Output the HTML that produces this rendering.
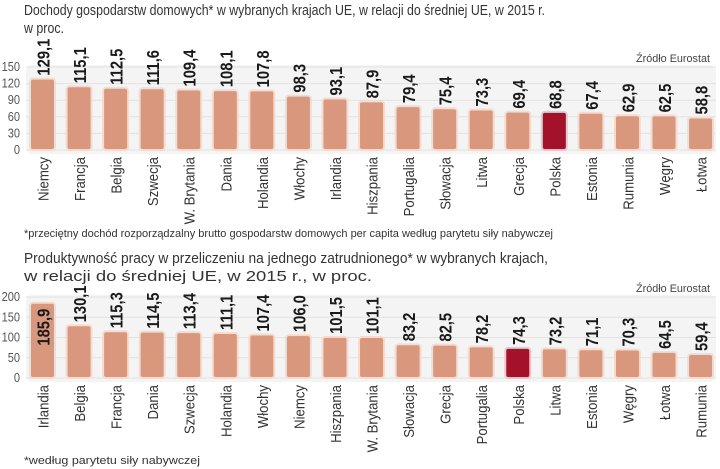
<!DOCTYPE html>
<html><head><meta charset="utf-8"><style>
body{margin:0;background:#fff;}
svg{display:block;font-family:"Liberation Sans",sans-serif;}
</style></head><body>
<svg id="c" width="720" height="469" viewBox="0 0 720 469">
<text x="24" y="15" font-size="15" fill="#333" textLength="521" lengthAdjust="spacingAndGlyphs">Dochody gospodarstw domowych* w wybranych krajach UE, w relacji do średniej UE, w 2015 r.</text>
<text x="24" y="33" font-size="15" fill="#333" textLength="40" lengthAdjust="spacingAndGlyphs">w proc.</text>
<text x="710" y="62" font-size="11" fill="#444" text-anchor="end" textLength="74" lengthAdjust="spacingAndGlyphs">Źródło Eurostat</text>
<text x="24" y="237" font-size="11" fill="#333" textLength="529" lengthAdjust="spacingAndGlyphs">*przeciętny dochód rozporządzalny brutto gospodarstw domowych per capita według parytetu siły nabywczej</text>
<text x="24" y="263" font-size="15" fill="#333" textLength="524" lengthAdjust="spacingAndGlyphs">Produktywność pracy w przeliczeniu na jednego zatrudnionego* w wybranych krajach,</text>
<text x="24" y="281" font-size="15" fill="#333" textLength="348" lengthAdjust="spacingAndGlyphs">w relacji do średniej UE, w 2015 r., w proc.</text>
<text x="710" y="292" font-size="11" fill="#444" text-anchor="end" textLength="74" lengthAdjust="spacingAndGlyphs">Źródło Eurostat</text>
<text x="24" y="464" font-size="11" fill="#333" textLength="176" lengthAdjust="spacingAndGlyphs">*według parytetu siły nabywczej</text>
<g id="g1"></g><g id="g2"></g>
</svg>
<script>
const cats1=["Niemcy","Francja","Belgia","Szwecja","W. Brytania","Dania","Holandia","Włochy","Irlandia","Hiszpania","Portugalia","Słowacja","Litwa","Grecja","Polska","Estonia","Rumunia","Węgry","Łotwa"];
const vals1=[129.1,115.1,112.5,111.6,109.4,108.1,107.8,98.3,93.1,87.9,79.4,75.4,73.3,69.4,68.8,67.4,62.9,62.5,58.8];
const ticks1=[0,30,60,90,120,150];
const cats2=["Irlandia","Belgia","Francja","Dania","Szwecja","Holandia","Włochy","Niemcy","Hiszpania","W. Brytania","Słowacja","Grecja","Portugalia","Polska","Litwa","Estonia","Węgry","Łotwa","Rumunia"];
const vals2=[185.9,130.1,115.3,114.5,113.4,111.1,107.4,106.0,101.5,101.1,83.2,82.5,78.2,74.3,73.2,71.1,70.3,64.5,59.4];
const ticks2=[0,50,100,150,200];
const NS="http://www.w3.org/2000/svg";
function mk(p,t,a){const e=document.createElementNS(NS,t);for(const k in a)e.setAttribute(k,a[k]);p.appendChild(e);return e;}
function draw(gid,cats,vals,ticks,y0,yTop,vmax,pfx){
 const g=document.getElementById(gid);
 const y=v=>y0-(v/vmax)*(y0-yTop);
 const x=i=>42.5+i*36.56;
 const bg=mk(g,'rect',{x:26,y:yTop-2,width:690,height:y0-yTop+6,rx:6,fill:'#f4f4f4'});
 
 
 ticks.forEach(t=>{
  const l=mk(g,'line',{x1:26,x2:716,y1:y(t),y2:y(t),stroke:'#e2e2e2','stroke-width':1});
  
  
  const tx=mk(g,'text',{transform:`translate(20,${y(t)+4}) scale(0.85,1)`,'font-size':13,fill:'#555','text-anchor':'end'});
  tx.textContent=t;
  
  
 });
 cats.forEach((c,i)=>{
  const cx=x(i),top=y(vals[i]);
  const pol=c==="Polska";
  const r=mk(g,'rect',{x:cx-12.5,y:top,width:25,height:y0-top,rx:3,fill:pol?'#a3122a':'#d9987e',stroke:pol?'#e8c8cc':'#f3dcd2','stroke-width':2});
  
  
  const inside=top<yTop+10;
  const vy=inside?top+6:top-3;
  const v=mk(g,'text',{transform:`translate(${cx+7},${vy}) rotate(-90) scale(0.82,1)`,'font-size':18,'font-weight':'bold',fill:'#1a1a1a','text-anchor':inside?'end':'start'});
  v.textContent=vals[i].toFixed(1).replace('.',',');
  
  
  const cl=mk(g,'text',{transform:`translate(${cx+6},${y0+7}) rotate(-90) scale(0.88,1)`,'font-size':15,fill:'#333','text-anchor':'end'});
  cl.textContent=c;
  
  
 });
}
draw('g1',cats1,vals1,ticks1,150,67,150,'chart1');
draw('g2',cats2,vals2,ticks2,378,297,200,'chart2');
</script>
</body></html>
